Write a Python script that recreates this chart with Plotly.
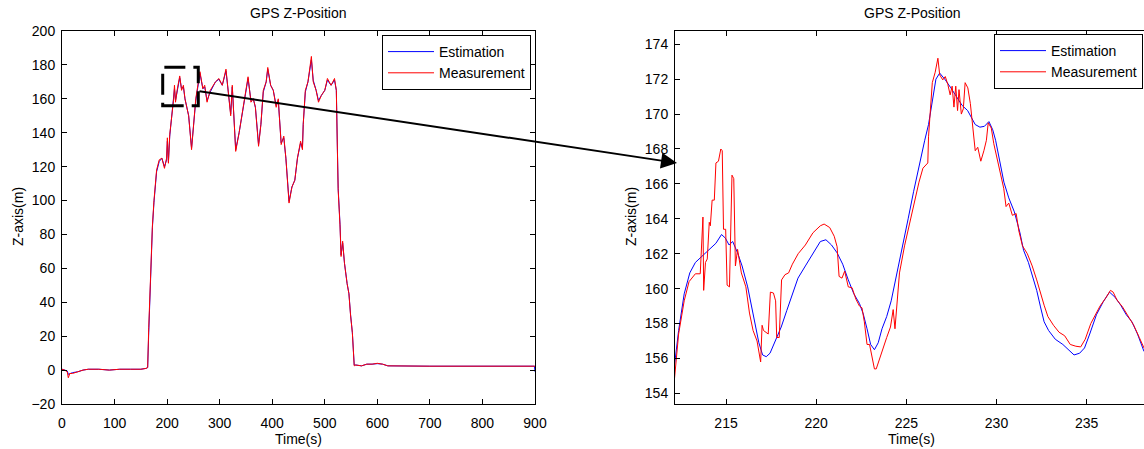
import plotly.graph_objects as go

# ---------------- data: left panel (full flight) ----------------
t_full = [0, 5, 10, 12, 15, 20, 30, 40, 50, 70, 90, 110, 130, 150, 160, 163, 165, 167, 170, 172,
          175, 178, 180, 185, 190, 195, 199, 200.5, 202.5, 205, 209, 212.5, 214, 216, 219, 224,
          227.5, 231, 234, 241, 246.5, 250, 254.5, 262.5, 268, 271.5, 276, 282, 292, 298.5, 305,
          312, 317.5, 321, 324, 330.5, 337, 342.5, 348, 354, 359.5, 364, 368, 374, 378.5, 383,
          388.5, 391.5, 397, 402, 407.5, 411.5, 417, 422, 426, 432, 437.5, 443, 448, 454, 457.5,
          459, 463, 468, 474.5, 478, 483.5, 488, 493.5, 500, 505, 512, 518.5, 522, 524, 525.5,
          529, 531, 534, 537.5, 542.5, 546, 549, 552.5, 556, 559, 570, 580, 590, 600, 610, 620,
          700, 800, 899, 900]
z_meas_full = [0.5, 0, -1, -4.5, -2, -2, -1, 0, 0.5, 0.5, 0, 0.5, 0.5, 0.5, 1, 1.5, 25, 45, 70, 85,
               100, 112, 118, 124, 125, 119, 125, 137, 122, 139, 149, 160, 168, 158, 165, 173.5,
               165, 168, 160, 150, 130, 145, 160, 176, 166, 168, 158, 165, 170, 172, 168,
               177.5, 160, 150, 168, 129, 140, 150, 160, 173, 158, 160, 155, 132, 145, 165,
               170, 178.5, 168, 165, 155, 160, 133, 138, 125, 98.5, 108, 112, 125, 135, 130,
               145, 165, 170, 185, 170, 165, 158, 162, 165, 172, 168, 172, 165, 130, 106,
               85, 67, 76, 63, 51, 45, 32.5, 22, 2.5, 3, 2.5, 3.5, 3.5, 4, 3.5, 2.5,
               2.3, 2.3, 2.3, 2.3]
z_est_full = [0.5, 0, -0.5, -2.5, -2, -1.5, -1, 0, 0.5, 0.5, 0, 0.5, 0.5, 0.5, 1, 1.5, 22, 42, 68, 84,
              99, 111, 117, 123, 125, 120, 124, 135, 123, 138, 149, 159, 166, 159, 164, 172.5,
              166, 167, 160, 150, 131, 144, 159, 175, 166, 167, 159, 164, 170, 171.5, 168,
              176.5, 161, 151, 167, 130, 140, 150, 160, 172, 159, 160, 155, 133, 145, 164,
              170, 177.5, 168, 165, 156, 159, 134, 137, 125, 99.5, 108, 112, 125, 134, 131,
              145, 164, 170, 183, 171, 165, 159, 162, 165, 171, 168, 171, 165, 131, 107,
              86, 68, 75, 63, 51, 45, 33, 22, 3, 3, 2.5, 3.5, 3.5, 3.8, 3.5, 2.5,
              2.3, 2.3, 2.3, -1]

# ---------------- data: right panel (zoom 212-238 s) ----------------
t_meas_zoom = [212.13, 212.37, 212.68, 212.95, 213.3, 213.57, 213.72, 213.76, 213.86, 213.96,
               214.07, 214.13, 214.23, 214.35, 214.44, 214.58, 214.71, 214.79, 214.86, 214.98,
               215.06, 215.19, 215.33, 215.43, 215.52, 215.64, 215.85, 216.1, 216.3, 216.5,
               216.72, 216.92, 217.0, 217.08, 217.34, 217.46, 217.63, 217.75, 217.81, 217.95,
               218.08, 218.27, 218.47, 218.68, 219.0, 219.4, 219.82, 220.23, 220.44, 220.75,
               221.0, 221.16, 221.27, 221.43, 221.58, 221.78, 221.99, 222.2, 222.4, 222.54,
               222.67, 222.82, 222.96, 223.13, 223.23, 223.33, 223.5, 223.7, 223.91, 224.12,
               224.27, 224.37, 224.47, 224.62, 224.9, 225.1, 225.3, 225.5, 225.7, 225.92,
               226.07, 226.19, 226.23, 226.44, 226.6, 226.75, 226.85, 227.02, 227.16, 227.3,
               227.43, 227.54, 227.64, 227.74, 227.84, 227.92, 228.05, 228.16, 228.26, 228.41,
               228.55, 228.67, 228.82, 228.96, 229.13, 229.3, 229.44, 229.54, 229.71, 229.85,
               230.06, 230.26, 230.4, 230.53, 230.68, 230.88, 231.09, 231.24, 231.44, 231.71,
               231.98, 232.23, 232.44, 232.64, 232.85, 233.16, 233.47, 233.78, 234.09, 234.4,
               234.67, 234.92, 235.23, 235.5, 235.74, 236.05, 236.32, 236.47, 236.68, 236.99,
               237.3, 237.61, 237.92, 238.18]
z_meas_zoom = [154.7, 157.4, 159.3, 160.4, 160.85, 160.85, 164.1, 159.9, 161.5, 161.7,
               163.8, 163.6, 165.07, 165.07, 167.2, 167.3, 168.0, 167.9, 163.4, 163.4,
               160.2, 160.1, 166.5, 166.3, 161.3, 162.25, 160.9, 160.1, 158.6, 157.6,
               157.0, 155.8, 157.9, 157.6, 157.4, 159.8, 159.75, 159.3, 157.2, 157.2,
               160.5, 160.8, 160.9, 161.4, 162.0, 162.5, 163.2, 163.6, 163.7, 163.5,
               163.0, 162.4, 160.7, 160.6, 161.0, 160.1, 160.05, 159.4, 159.0, 158.9,
               158.1, 156.8, 156.8, 155.8, 155.4, 155.4, 155.95, 156.6, 157.2, 157.8,
               158.8, 157.7, 159.2, 160.9, 162.45, 163.4, 164.4, 165.2, 166.1, 166.9,
               167.1, 167.2, 168.7, 171.8, 172.4, 173.2, 172.25, 171.96, 172.15, 171.7,
               171.1, 171.6, 170.4, 171.6, 170.2, 171.4, 170.0, 170.3, 171.8, 171.5,
               170.6, 169.2, 167.9, 168.1, 167.3, 167.9, 168.5, 169.5, 169.2, 168.3,
               167.3, 166.3, 165.75, 164.7, 164.9, 164.2, 164.3, 163.3, 162.45, 162.0,
               161.3, 160.5, 159.7, 159.05, 158.4, 157.9, 157.5, 157.3, 156.8, 156.7,
               156.66, 157.1, 158.0, 158.5, 159.0, 159.45, 159.9, 159.8, 159.35, 158.95,
               158.4, 157.9, 157.2, 156.6]

t_est_zoom = [212.13, 212.37, 212.68, 212.99, 213.3, 213.72, 214.13, 214.44, 214.75, 214.96,
              215.17, 215.37, 215.64, 215.89, 216.2, 216.41, 216.61, 216.82, 217.03, 217.23,
              217.44, 217.75, 218.06, 218.37, 218.68, 218.99, 219.4, 219.82, 220.23, 220.54,
              220.85, 221.16, 221.47, 221.78, 222.09, 222.4, 222.61, 222.82, 223.02, 223.23,
              223.44, 223.65, 223.91, 224.16, 224.47, 224.78, 225.1, 225.4, 225.71, 226.02,
              226.23, 226.44, 226.64, 226.85, 227.16, 227.47, 227.78, 228.09, 228.4, 228.61,
              228.82, 229.08, 229.33, 229.58, 229.79, 229.95, 230.16, 230.41, 230.68, 230.99,
              231.3, 231.5, 231.77, 232.02, 232.23, 232.44, 232.64, 232.89, 233.26, 233.68,
              233.99, 234.3, 234.61, 234.88, 235.17, 235.54, 235.92, 236.27, 236.58, 236.89,
              237.2, 237.51, 237.82, 238.18]
z_est_zoom = [155.5, 157.6, 159.7, 160.9, 161.5, 161.9, 162.25, 162.6, 163.1, 162.9,
              162.5, 162.7, 162.05, 161.3, 160.1, 158.95, 157.9, 156.9, 156.2, 156.1,
              156.3, 157.0, 157.8, 158.75, 159.7, 160.6, 161.3, 162.05, 162.7, 162.8,
              162.5, 162.05, 161.4, 160.5, 159.7, 159.15, 158.55, 157.7, 156.8, 156.5,
              156.9, 157.7, 158.4, 159.3, 160.8, 162.45, 164.0, 165.55, 167.1, 168.5,
              169.4, 170.8, 172.0, 172.35, 171.96, 171.5, 171.0, 170.5, 170.2, 169.8,
              169.4, 169.25, 169.3, 169.57, 169.1, 168.5, 167.3, 166.1, 165.2, 164.4,
              163.2, 162.2, 161.5, 160.7, 159.9, 158.95, 158.1, 157.6, 157.1, 156.8,
              156.5, 156.2, 156.3, 156.6, 157.4, 158.5, 159.25, 159.8, 159.5, 159.05,
              158.5, 158.1, 157.4, 156.4]

x_ticks_full = [0, 100, 200, 300, 400, 500, 600, 700, 800, 900]
y_ticks_full = [-20, 0, 20, 40, 60, 80, 100, 120, 140, 160, 180, 200]
x_ticks_zoom = [215, 220, 225, 230, 235]
y_ticks_zoom = [154, 156, 158, 160, 162, 164, 166, 168, 170, 172, 174]

# ---------------- figure ----------------
W, H = 1144, 449
FONT = "Liberation Sans, Arial, sans-serif"
BLUE = "#0000FF"
RED = "#FF0000"
FS = 14


def px(x):
    return x / W


def py(y):
    return 1 - y / H


fig = go.Figure()
fig.add_trace(go.Scatter(x=t_full, y=z_est_full, mode="lines", name="Estimation",
                         line=dict(color=BLUE, width=1), xaxis="x", yaxis="y", legend="legend"))
fig.add_trace(go.Scatter(x=t_full, y=z_meas_full, mode="lines", name="Measurement",
                         line=dict(color=RED, width=1), xaxis="x", yaxis="y", legend="legend"))
fig.add_trace(go.Scatter(x=t_est_zoom, y=z_est_zoom, mode="lines", name="Estimation",
                         line=dict(color=BLUE, width=1), xaxis="x2", yaxis="y2", legend="legend2"))
fig.add_trace(go.Scatter(x=t_meas_zoom, y=z_meas_zoom, mode="lines", name="Measurement",
                         line=dict(color=RED, width=1), xaxis="x2", yaxis="y2", legend="legend2"))

axis_common = dict(showgrid=False, zeroline=False, showline=True, linecolor="black", linewidth=1,
                   ticks="inside", ticklen=5, tickcolor="black", tickwidth=1, automargin=False,
                   tickfont=dict(family=FONT, size=FS, color="black"))

ydom = [py(404), py(31)]
fig.update_layout(
    width=W, height=H,
    margin=dict(l=0, r=0, t=0, b=0, autoexpand=False),
    paper_bgcolor="white", plot_bgcolor="white",
    font=dict(family=FONT, size=FS, color="black"),
    xaxis=dict(domain=[px(62), px(535)], range=[0, 900], tickvals=x_ticks_full,
               mirror="ticks", anchor="y", ticklabelstandoff=6, **axis_common),
    yaxis=dict(domain=ydom, range=[-20, 200], tickvals=y_ticks_full,
               mirror="ticks", anchor="x", ticklabelstandoff=3, **axis_common),
    xaxis2=dict(domain=[px(675), 1.0], range=[212.17, 238.18], tickvals=x_ticks_zoom,
                mirror="ticks", anchor="y2", ticklabelstandoff=6, **axis_common),
    yaxis2=dict(domain=ydom, range=[153.39, 174.76], tickvals=y_ticks_zoom,
                mirror=False, anchor="x2", ticklabelstandoff=3, **axis_common),
    legend=dict(x=px(531), y=py(35), xanchor="right", yanchor="top", itemwidth=46,
                bordercolor="black", borderwidth=1, bgcolor="white",
                font=dict(family=FONT, size=14, color="black"), tracegroupgap=0),
    legend2=dict(x=px(1143), y=py(34), xanchor="right", yanchor="top", itemwidth=46,
                 bordercolor="black", borderwidth=1, bgcolor="white",
                 font=dict(family=FONT, size=14, color="black"), tracegroupgap=0),
)

# titles and axis labels
texts = [
    ("GPS Z-Position", 298, 13, 0),
    ("GPS Z-Position", 912, 13, 0),
    ("Time(s)", 298, 439, 0),
    ("Time(s)", 911, 439, 0),
    ("Z-axis(m)", 18, 217, -90),
    ("Z-axis(m)", 631, 217, -90),
]
for txt, x, y, ang in texts:
    fig.add_annotation(text=txt, x=px(x), y=py(y), xref="paper", yref="paper",
                       xanchor="center", yanchor="middle", showarrow=False, textangle=ang,
                       font=dict(family=FONT, size=FS, color="black"))

# dashed zoom box on the left panel
fig.add_shape(type="rect", xref="x", yref="y", x0=191.6, x1=259.3, y0=155.9, y1=178.6,
              line=dict(color="black", width=3, dash="21px,8px"))

# arrow from zoom box to the right panel
fig.add_annotation(x=px(677), y=py(163), xref="paper", yref="paper",
                   ax=198 - 677, ay=91 - 163, axref="pixel", ayref="pixel",
                   text="", showarrow=True, arrowhead=2, arrowsize=1.6, arrowwidth=2,
                   arrowcolor="black")

fig.write_html("out.html",
               config={"displayModeBar": False},
               post_script="document.body.style.margin='0';")
